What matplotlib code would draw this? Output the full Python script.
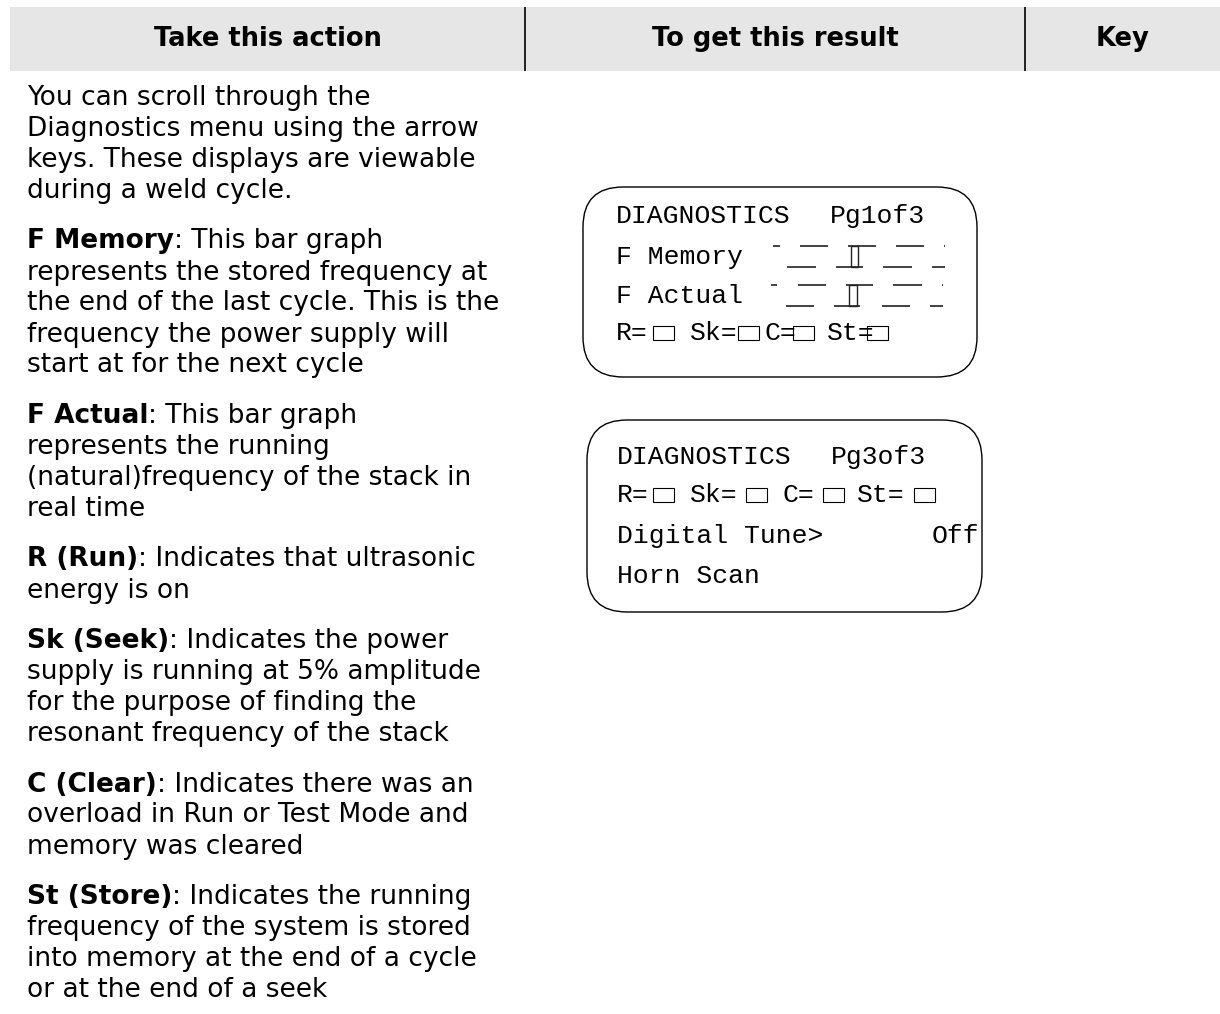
import matplotlib
matplotlib.use("Agg")
import matplotlib.pyplot as plt
from matplotlib.patches import FancyBboxPatch, Rectangle

# header
header_labels = ['Take this action', 'To get this result', 'Key']
col_edges = [10, 525, 1025, 1220]

# left column text: (bold head, rest of first line, following lines)
paragraphs = [
    ('', 'You can scroll through the',
     ['Diagnostics menu using the arrow',
      'keys. These displays are viewable',
      'during a weld cycle.']),
    ('F Memory', ': This bar graph',
     ['represents the stored frequency at',
      'the end of the last cycle. This is the',
      'frequency the power supply will',
      'start at for the next cycle']),
    ('F Actual', ': This bar graph',
     ['represents the running',
      '(natural)frequency of the stack in',
      'real time']),
    ('R (Run)', ': Indicates that ultrasonic',
     ['energy is on']),
    ('Sk (Seek)', ': Indicates the power',
     ['supply is running at 5% amplitude',
      'for the purpose of finding the',
      'resonant frequency of the stack']),
    ('C (Clear)', ': Indicates there was an',
     ['overload in Run or Test Mode and',
      'memory was cleared']),
    ('St (Store)', ': Indicates the running',
     ['frequency of the system is stored',
      'into memory at the end of a cycle',
      'or at the end of a seek']),
]

# screen 1 (Pg1of3)
scr1_frame = (583, 187, 394, 190)
scr1_text = [('DIAGNOSTICS', 616, 223), ('Pg1of3', 830, 223),
             ('F Memory', 616, 264), ('F Actual', 616, 303)]
scr1_flags = ['R=', 'Sk=', 'C=', 'St=']
scr1_flag_x = [616, 690, 765, 827]
scr1_box_x = [653, 738, 793, 867]
scr1_flag_y = 340

# bar graphs on screen 1: (upper y, upper segs, lower y, lower segs, marker x0, x1)
bar_rows = [
    (246, [(773, 780), (800, 828), (848, 876), (896, 924), (944, 945)],
     267, [(787, 816), (836, 863), (883, 912), (932, 945)], 851, 858),
    (285, [(771, 777), (798, 826), (846, 873), (893, 922), (942, 943)],
     306, [(786, 814), (834, 860), (882, 910), (930, 943)], 849, 857),
]

# screen 2 (Pg3of3)
scr2_frame = (587, 420, 395, 192)
scr2_text = [('DIAGNOSTICS', 617, 464), ('Pg3of3', 831, 464),
             ('Digital Tune>', 617, 543), ('Off', 932, 543),
             ('Horn Scan', 617, 583)]
scr2_flags = ['R=', 'Sk=', 'C=', 'St=']
scr2_flag_x = [617, 690, 782, 857]
scr2_box_x = [653, 746, 823, 914]
scr2_flag_y = 502

fig = plt.figure(figsize=(12.2, 10.14), dpi=100)
ax = fig.add_axes([0, 0, 1, 1])
ax.set_xlim(0, 1220)
ax.set_ylim(1014, 0)
ax.axis('off')

sans = 'DejaVu Sans'
mono = 'Liberation Mono'

# header band
ax.add_patch(Rectangle((col_edges[0], 7), col_edges[-1] - col_edges[0], 64,
                       facecolor='#e6e6e6', edgecolor='none'))
for x in col_edges[1:-1]:
    ax.plot([x, x], [7, 71], color='black', lw=1.2, solid_capstyle='butt')
for i, lab in enumerate(header_labels):
    cx = (col_edges[i] + col_edges[i + 1]) / 2
    ax.text(cx, 46, lab, ha='center', va='baseline', fontsize=18.5,
            fontweight='bold', family=sans)

# left column paragraphs
body_size = 19
line_h = 31
para_gap = 50.5
y = 105
for head, rest, more in paragraphs:
    if head:
        t = ax.text(27, y, head, ha='left', va='baseline', fontsize=body_size,
                    fontweight='bold', family=sans)
        ax.annotate(rest, xy=(1, 0), xycoords=t, ha='left', va='bottom',
                    fontsize=body_size, family=sans)
    else:
        ax.text(27, y, rest, ha='left', va='baseline', fontsize=body_size,
                family=sans)
    for line in more:
        y += line_h
        ax.text(27, y, line, ha='left', va='baseline', fontsize=body_size,
                family=sans)
    y += para_gap


def draw_screen(frame, texts, flags, flag_x, box_x, flag_y):
    x0, y0, w, h = frame
    ax.add_patch(FancyBboxPatch((x0, y0), w, h,
                                boxstyle='round,pad=0,rounding_size=40',
                                facecolor='none', edgecolor='black', lw=1.0))
    for s, tx, ty in texts:
        ax.text(tx, ty, s, ha='left', va='baseline', fontsize=19, family=mono)
    for s, fx, bx in zip(flags, flag_x, box_x):
        ax.text(fx, flag_y, s, ha='left', va='baseline', fontsize=19, family=mono)
        ax.add_patch(Rectangle((bx, flag_y - 14), 21, 14, facecolor='white',
                               edgecolor='black', lw=0.8))


draw_screen(scr1_frame, scr1_text, scr1_flags, scr1_flag_x, scr1_box_x, scr1_flag_y)
draw_screen(scr2_frame, scr2_text, scr2_flags, scr2_flag_x, scr2_box_x, scr2_flag_y)

for uy, usegs, ly, lsegs, mx0, mx1 in bar_rows:
    for a, b in usegs:
        ax.plot([a, b], [uy, uy], color='#222222', lw=1.2, solid_capstyle='butt')
    for a, b in lsegs:
        ax.plot([a, b], [ly, ly], color='#222222', lw=1.2, solid_capstyle='butt')
    ax.add_patch(Rectangle((mx0, uy), mx1 - mx0, ly - uy, facecolor='white',
                           edgecolor='#222222', lw=1.0))

fig.savefig('out.png', dpi=100)
